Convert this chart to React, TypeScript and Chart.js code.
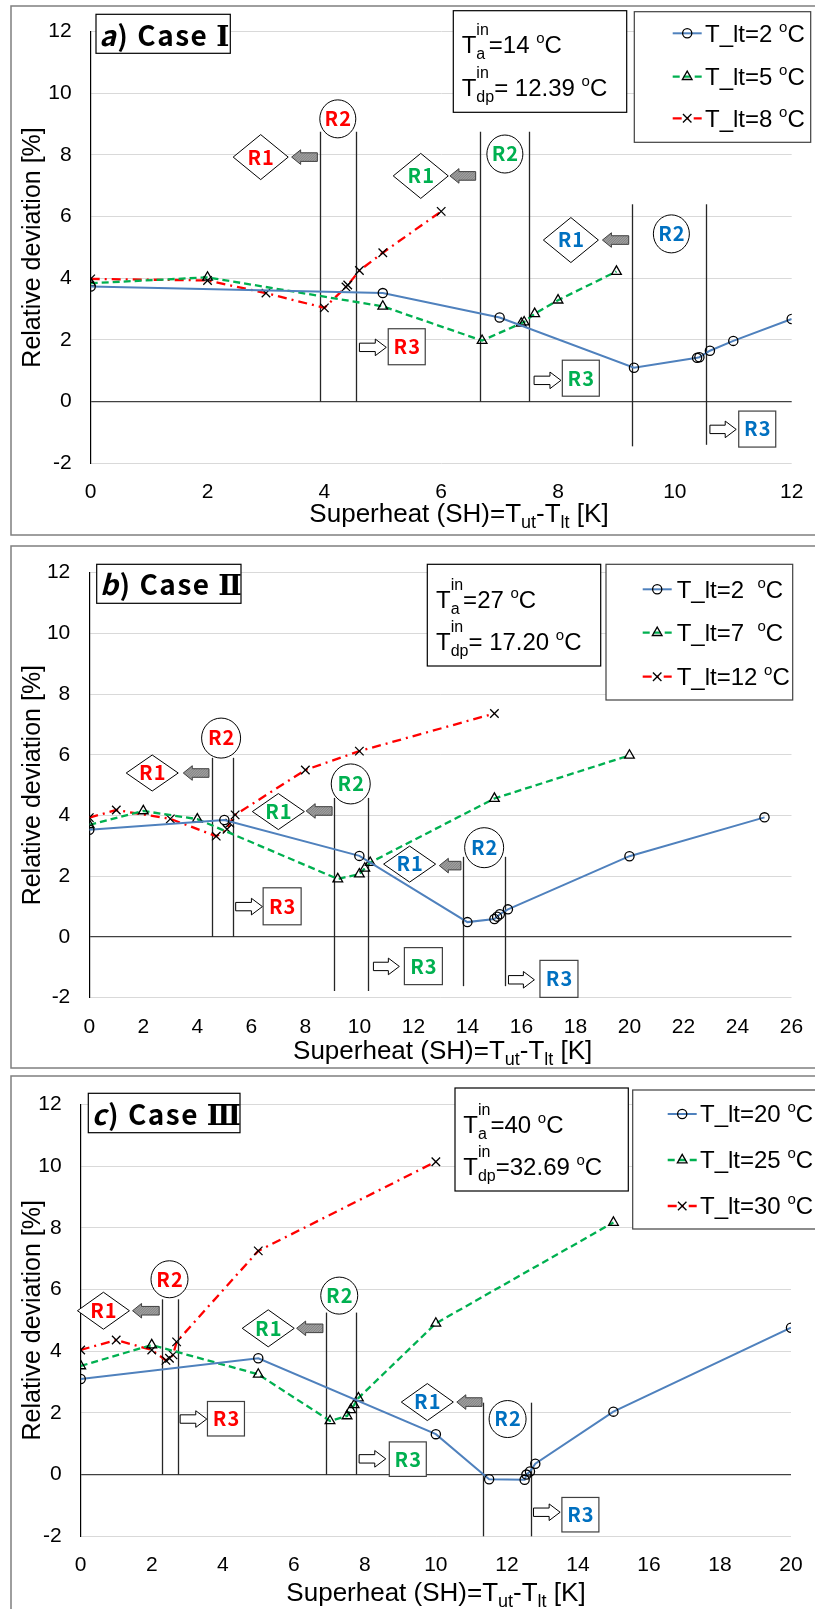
import React, { useEffect, useRef } from 'react';
import { Chart, registerables } from 'chart.js';

Chart.register(...registerables);

const LATIN = '"Liberation Sans", Arial, sans-serif';
const KR = '"Noto Sans CJK KR", "Noto Sans", sans-serif';
const SERIF = '"DejaVu Serif", "Liberation Serif", serif';
const W = 815;

const RED = '#FF0000';
const GREEN = '#00B050';
const BLUE = '#0070C0';
const LINE_BLUE = '#4F81BD';

// ---------------- Panel a) Case I ----------------
const A_BLUE_X = [0, 5, 7, 9.3, 10.38, 10.42, 10.6, 11, 12];
const A_BLUE_Y = [3.73, 3.52, 2.73, 1.1, 1.42, 1.44, 1.65, 1.97, 2.68];
const A_GREEN_X = [0, 2, 5, 6.7, 7.37, 7.42, 7.6, 8, 9];
const A_GREEN_Y = [3.84, 4.03, 3.09, 1.98, 2.54, 2.58, 2.85, 3.29, 4.22];
const A_RED_X = [0, 2, 3, 4, 4.37, 4.4, 4.6, 5, 6];
const A_RED_Y = [3.98, 3.93, 3.52, 3.04, 3.72, 3.78, 4.25, 4.83, 6.17];
const A_LABELS = ['T_lt=2 ', 'T_lt=5 ', 'T_lt=8 '];
const A_INFO = ['=14 ', '= 12.39 '];
const A_VLINES = [[3.92, 8.75, 0], [4.55, 8.75, 0], [6.67, 8.75, 0], [7.51, 8.75, 0], [9.26, 6.4, -1.45], [10.53, 6.4, -1.4]];
const A_R1 = [[2.91, 7.93, RED], [5.65, 7.32, GREEN], [8.22, 5.24, BLUE]];
const A_R1_ARROWS = [[3.44, 3.88, 7.93], [6.15, 6.59, 7.32], [8.76, 9.21, 5.24]];
const A_R2 = [[4.23, 9.17, RED], [7.09, 8.03, GREEN], [9.94, 5.44, BLUE]];
const A_R3 = [[5.41, 1.78, RED], [8.39, 0.76, GREEN], [11.41, -0.89, BLUE]];
const A_R3_ARROWS = [[4.6, 5.06, 1.76], [7.59, 8.05, 0.69], [10.6, 11.05, -0.9]];

// ---------------- Panel b) Case II ----------------
const B_BLUE_X = [0, 5, 10, 14, 15, 15.1, 15.2, 15.5, 20, 25];
const B_BLUE_Y = [3.53, 3.85, 2.67, 0.49, 0.59, 0.67, 0.75, 0.91, 2.66, 3.94];
const B_GREEN_X = [0, 2, 4, 9.2, 10, 10.2, 10.4, 15, 20];
const B_GREEN_Y = [3.69, 4.15, 3.88, 1.91, 2.07, 2.26, 2.45, 4.56, 5.98];
const B_RED_X = [0, 1, 3, 4.7, 5.1, 5.2, 5.4, 8, 10, 15];
const B_RED_Y = [3.93, 4.18, 3.89, 3.32, 3.55, 3.75, 4.02, 5.5, 6.12, 7.36];
const B_LABELS = ['T_lt=2  ', 'T_lt=7  ', 'T_lt=12 '];
const B_INFO = ['=27 ', '= 17.20 '];
const B_VLINES = [[4.53, 5.9, 0], [5.31, 5.9, 0], [9.06, 4.58, -1.78], [10.33, 4.58, -1.78], [13.85, 2.64, -1.62], [15.41, 2.64, -1.62]];
const B_R1 = [[2.33, 5.4, RED], [7.0, 4.13, GREEN], [11.86, 2.4, BLUE]];
const B_R1_ARROWS = [[3.48, 4.43, 5.4], [8.03, 8.99, 4.15], [12.96, 13.76, 2.35]];
const B_R2 = [[4.88, 6.55, RED], [9.68, 5.04, GREEN], [14.62, 2.94, BLUE]];
const B_R3 = [[7.14, 1.01, RED], [12.37, -0.96, GREEN], [17.39, -1.38, BLUE]];
const B_R3_ARROWS = [[5.42, 6.41, 1.0], [10.52, 11.48, -0.97], [15.52, 16.48, -1.41]];

// ---------------- Panel c) Case III ----------------
const C_BLUE_X = [0, 5, 10, 11.5, 12.5, 12.55, 12.65, 12.8, 15, 20];
const C_BLUE_Y = [3.1, 3.77, 1.31, -0.15, -0.17, 0.0, 0.1, 0.35, 2.04, 4.76];
const C_GREEN_X = [0, 2, 5, 7.02, 7.5, 7.6, 7.7, 7.82, 10, 15];
const C_GREEN_Y = [3.52, 4.2, 3.25, 1.74, 1.9, 2.1, 2.26, 2.48, 4.9, 8.17];
const C_RED_X = [0, 1, 2, 2.4, 2.5, 2.6, 2.7, 5, 10];
const C_RED_Y = [4.04, 4.36, 4.04, 3.7, 3.77, 3.88, 4.3, 7.25, 10.14];
const C_LABELS = ['T_lt=20 ', 'T_lt=25 ', 'T_lt=30 '];
const C_INFO = ['=40 ', '=32.69 '];
const C_VLINES = [[2.3, 5.68, 0], [2.75, 5.68, 0], [6.9, 5.25, 0], [7.75, 5.25, 0], [11.34, 2.33, -2], [12.68, 2.33, -2]];
const C_R1 = [[0.64, 5.31, RED], [5.28, 4.74, GREEN], [9.76, 2.35, BLUE]];
const C_R1_ARROWS = [[1.46, 2.21, 5.31], [6.08, 6.82, 4.74], [10.59, 11.3, 2.35]];
const C_R2 = [[2.5, 6.33, RED], [7.28, 5.8, GREEN], [12.02, 1.8, BLUE]];
const C_R3 = [[4.09, 1.81, RED], [9.21, 0.5, GREEN], [14.07, -1.3, BLUE]];
const C_R3_ARROWS = [[2.8, 3.55, 1.8], [7.84, 8.59, 0.51], [12.75, 13.5, -1.22]];

const Y_MIN = -2;
const Y_MAX = 12;
const STEP = 2;

type Series = { xs: number[]; ys: number[]; label: string; color: string; dash: number[]; marker: string; radius: number; width: number };

function mkSeries(bx: number[], by: number[], gx: number[], gy: number[], rx: number[], ry: number[], labels: string[]): Series[] {
  return [
    { xs: bx, ys: by, label: labels[0], color: LINE_BLUE, dash: [], marker: 'circle', radius: 4.6, width: 2 },
    { xs: gx, ys: gy, label: labels[1], color: GREEN, dash: [7, 4], marker: 'triangle', radius: 5.6, width: 2.3 },
    { xs: rx, ys: ry, label: labels[2], color: RED, dash: [9, 5, 2, 5], marker: 'crossRot', radius: 6, width: 2.3 },
  ];
}

const PANELS: any[] = [
  {
    top: 0, height: 541,
    area: { l: 90.7, t: 25.7, r: 791.7, b: 463.3 }, xMax: 12,
    series: mkSeries(A_BLUE_X, A_BLUE_Y, A_GREEN_X, A_GREEN_Y, A_RED_X, A_RED_Y, A_LABELS),
    vlines: A_VLINES, r1: A_R1, r1a: A_R1_ARROWS, r2: A_R2, r3: A_R3, r3a: A_R3_ARROWS,
    sizes: { dw: 55, dh: 45, crx: 18, cry: 19, bw: 37, bh: 36 },
    border: { l: 11, t: 6, r: 840, b: 535 },
    title: { l: 96, t: 14.3, r: 230.3, b: 53.3, tx: 99.3, base: 45.7, letter: 'a', roman: 'Ⅰ' },
    info: { l: 453.3, t: 10.7, r: 626.7, b: 112.3, tx: 8.4, o1: 42.6, o2: 85.3, v: A_INFO },
    legend: { l: 634.3, t: 11.7, r: 810.7, b: 142.3, offs: [21.6, 65, 106.6], s1: 38.4, s2: 67.4, tx: 70.7 },
    xTitle: { cx: 459, base: 522 },
  },
  {
    top: 541, height: 530,
    area: { l: 89.3, t: 24, r: 791.5, b: 456.7 }, xMax: 26,
    series: mkSeries(B_BLUE_X, B_BLUE_Y, B_GREEN_X, B_GREEN_Y, B_RED_X, B_RED_Y, B_LABELS),
    vlines: B_VLINES, r1: B_R1, r1a: B_R1_ARROWS, r2: B_R2, r3: B_R3, r3a: B_R3_ARROWS,
    sizes: { dw: 52, dh: 36, crx: 19.5, cry: 20, bw: 38, bh: 37 },
    border: { l: 11, t: 5, r: 840, b: 527 },
    title: { l: 96.7, t: 23.3, r: 241, b: 62.3, tx: 100, base: 54, letter: 'b', roman: 'Ⅱ' },
    info: { l: 427.3, t: 23.3, r: 600.7, b: 125, tx: 8.7, o1: 44, o2: 85.7, v: B_INFO },
    legend: { l: 606, t: 23.3, r: 792.7, b: 159, offs: [25, 68.4, 112.4], s1: 36.7, s2: 65.7, tx: 70.7 },
    xTitle: { cx: 442.7, base: 518 },
  },
  {
    top: 1071, height: 538,
    area: { l: 80.7, t: 33.3, r: 791, b: 465.3 }, xMax: 20,
    series: mkSeries(C_BLUE_X, C_BLUE_Y, C_GREEN_X, C_GREEN_Y, C_RED_X, C_RED_Y, C_LABELS),
    vlines: C_VLINES, r1: C_R1, r1a: C_R1_ARROWS, r2: C_R2, r3: C_R3, r3a: C_R3_ARROWS,
    sizes: { dw: 52, dh: 37, crx: 18.5, cry: 18.5, bw: 37, bh: 34.5 },
    border: { l: 11, t: 5, r: 840, b: 580 },
    title: { l: 88.3, t: 22.3, r: 240, b: 61.7, tx: 91.7, base: 54, letter: 'c', roman: 'Ⅲ' },
    info: { l: 455, t: 17, r: 628.3, b: 120, tx: 8.3, o1: 45.3, o2: 87, v: C_INFO },
    legend: { l: 632.7, t: 19, r: 840, b: 158, offs: [24, 70, 116], s1: 35, s2: 64, tx: 67.3 },
    xTitle: { cx: 436, base: 530 },
  },
];

type Part = { t: string; size: number; dy?: number; family?: string; weight?: string; style?: string; ls?: number };

function setFont(ctx: CanvasRenderingContext2D, p: Part) {
  ctx.font = `${p.style || 'normal'} ${p.weight || 'normal'} ${p.size}px ${p.family || LATIN}`;
  (ctx as any).letterSpacing = `${p.ls || 0}px`;
}
function partsWidth(ctx: CanvasRenderingContext2D, parts: Part[]) {
  let w = 0;
  for (const p of parts) { setFont(ctx, p); w += ctx.measureText(p.t).width; }
  (ctx as any).letterSpacing = '0px';
  return w;
}
function drawParts(ctx: CanvasRenderingContext2D, x: number, base: number, parts: Part[], color = '#000') {
  ctx.fillStyle = color;
  ctx.textAlign = 'left';
  ctx.textBaseline = 'alphabetic';
  for (const p of parts) {
    setFont(ctx, p);
    ctx.fillText(p.t, x, base + (p.dy || 0));
    x += ctx.measureText(p.t).width;
  }
  (ctx as any).letterSpacing = '0px';
  return x;
}

function drawMarker(ctx: CanvasRenderingContext2D, style: string, x: number, y: number, r: number) {
  ctx.save();
  ctx.setLineDash([]);
  ctx.strokeStyle = '#000';
  ctx.lineWidth = 1.3;
  ctx.beginPath();
  if (style === 'circle') {
    ctx.arc(x, y, r, 0, Math.PI * 2);
  } else if (style === 'triangle') {
    for (let i = 0; i < 3; i++) {
      const a = (i * 2 * Math.PI) / 3;
      const px = x + Math.sin(a) * r;
      const py = y - Math.cos(a) * r;
      if (i === 0) ctx.moveTo(px, py); else ctx.lineTo(px, py);
    }
    ctx.closePath();
  } else {
    const o = r * Math.SQRT1_2;
    ctx.moveTo(x - o, y - o); ctx.lineTo(x + o, y + o);
    ctx.moveTo(x + o, y - o); ctx.lineTo(x - o, y + o);
  }
  ctx.stroke();
  ctx.restore();
}

function rLabel(ctx: CanvasRenderingContext2D, text: string, cx: number, cy: number, color: string) {
  ctx.save();
  ctx.font = `bold 20px ${KR}`;
  (ctx as any).letterSpacing = '1px';
  const w = ctx.measureText(text).width - 1;
  ctx.fillStyle = color;
  ctx.textAlign = 'left';
  ctx.textBaseline = 'alphabetic';
  ctx.fillText(text, cx - w / 2, cy + 7.4);
  ctx.restore();
}

function leftArrowPath(ctx: CanvasRenderingContext2D, a: number, b: number, cy: number) {
  const hl = 9, hh = 7.3, sh = 4.3;
  ctx.beginPath();
  ctx.moveTo(a, cy); ctx.lineTo(a + hl, cy - hh); ctx.lineTo(a + hl, cy - sh);
  ctx.lineTo(b, cy - sh); ctx.lineTo(b, cy + sh); ctx.lineTo(a + hl, cy + sh);
  ctx.lineTo(a + hl, cy + hh); ctx.closePath();
}

function makePlugin(p: any) {
  return {
    id: 'deco',
    beforeDraw(chart: any) {
      const ctx: CanvasRenderingContext2D = chart.ctx;
      const b = p.border;
      ctx.save();
      ctx.strokeStyle = '#7F7F7F';
      ctx.lineWidth = 1.5;
      ctx.strokeRect(b.l, b.t, b.r - b.l, b.b - b.t);
      ctx.restore();
    },
    beforeDatasetsDraw(chart: any) {
      const ctx: CanvasRenderingContext2D = chart.ctx;
      const X = (v: number) => chart.scales.x.getPixelForValue(v);
      const Y = (v: number) => chart.scales.y.getPixelForValue(v);
      ctx.save();
      ctx.strokeStyle = '#262626';
      ctx.lineWidth = 1.3;
      for (const [x, y1, y2] of p.vlines) {
        const px = Math.round(X(x)) + 0.5;
        ctx.beginPath();
        ctx.moveTo(px, Y(y1));
        ctx.lineTo(px, Y(y2));
        ctx.stroke();
      }
      ctx.restore();
    },
    afterDatasetsDraw(chart: any) {
      const ctx: CanvasRenderingContext2D = chart.ctx;
      const X = (v: number) => chart.scales.x.getPixelForValue(v);
      const Y = (v: number) => chart.scales.y.getPixelForValue(v);
      const s = p.sizes;
      ctx.save();
      ctx.setLineDash([]);
      // R2 circles
      for (const [x, y, c] of p.r2) {
        const cx = X(x), cy = Y(y);
        ctx.beginPath();
        ctx.ellipse(cx, cy, s.crx, s.cry, 0, 0, Math.PI * 2);
        ctx.fillStyle = '#fff'; ctx.fill();
        ctx.strokeStyle = '#000'; ctx.lineWidth = 1; ctx.stroke();
        rLabel(ctx, 'R2', cx, cy, c);
      }
      // R1 diamonds
      for (const [x, y, c] of p.r1) {
        const cx = X(x), cy = Y(y);
        ctx.beginPath();
        ctx.moveTo(cx - s.dw / 2, cy); ctx.lineTo(cx, cy - s.dh / 2);
        ctx.lineTo(cx + s.dw / 2, cy); ctx.lineTo(cx, cy + s.dh / 2);
        ctx.closePath();
        ctx.fillStyle = '#fff'; ctx.fill();
        ctx.strokeStyle = '#000'; ctx.lineWidth = 1; ctx.stroke();
        rLabel(ctx, 'R1', cx, cy, c);
      }
      // grey hatched left arrows
      for (const [x1, x2, y] of p.r1a) {
        const a = X(x1), b = X(x2), cy = Y(y);
        leftArrowPath(ctx, a, b, cy);
        ctx.fillStyle = '#A0A0A0'; ctx.fill();
        ctx.save();
        leftArrowPath(ctx, a, b, cy);
        ctx.clip();
        ctx.strokeStyle = '#7A7A7A'; ctx.lineWidth = 0.8;
        for (let k = a - 20; k < b + 20; k += 2.5) {
          ctx.beginPath(); ctx.moveTo(k, cy + 10); ctx.lineTo(k + 20, cy - 10); ctx.stroke();
        }
        ctx.restore();
        leftArrowPath(ctx, a, b, cy);
        ctx.strokeStyle = '#404040'; ctx.lineWidth = 1; ctx.stroke();
      }
      // R3 boxes
      for (const [x, y, c] of p.r3) {
        const cx = X(x), cy = Y(y);
        ctx.fillStyle = '#fff';
        ctx.fillRect(cx - s.bw / 2, cy - s.bh / 2, s.bw, s.bh);
        ctx.strokeStyle = '#404040'; ctx.lineWidth = 1.2;
        ctx.strokeRect(cx - s.bw / 2, cy - s.bh / 2, s.bw, s.bh);
        rLabel(ctx, 'R3', cx, cy, c);
      }
      // hollow right arrows
      for (const [x1, x2, y] of p.r3a) {
        const a = X(x1), b = X(x2), cy = Y(y);
        const hl = 11, hh = 8.3, sh = 4.2;
        ctx.beginPath();
        ctx.moveTo(b, cy); ctx.lineTo(b - hl, cy - hh); ctx.lineTo(b - hl, cy - sh);
        ctx.lineTo(a, cy - sh); ctx.lineTo(a, cy + sh); ctx.lineTo(b - hl, cy + sh);
        ctx.lineTo(b - hl, cy + hh); ctx.closePath();
        ctx.fillStyle = '#fff'; ctx.fill();
        ctx.strokeStyle = '#000'; ctx.lineWidth = 1; ctx.stroke();
      }

      // title box
      const t = p.title;
      ctx.fillStyle = '#fff';
      ctx.fillRect(t.l, t.t, t.r - t.l, t.b - t.t);
      ctx.strokeStyle = '#000'; ctx.lineWidth = 1.2;
      ctx.strokeRect(t.l, t.t, t.r - t.l, t.b - t.t);
      drawParts(ctx, t.tx, t.base, [
        { t: t.letter, size: 28, family: KR, weight: 'bold', style: 'italic', ls: 1.5 },
        { t: ') Case ', size: 28, family: KR, weight: 'bold', ls: 1.5 },
        { t: t.roman, size: 28, family: SERIF, weight: 'bold', ls: 0 },
      ]);

      // info box
      const inf = p.info;
      ctx.fillStyle = '#fff';
      ctx.fillRect(inf.l, inf.t, inf.r - inf.l, inf.b - inf.t);
      ctx.strokeStyle = '#000'; ctx.lineWidth = 1.2;
      ctx.strokeRect(inf.l, inf.t, inf.r - inf.l, inf.b - inf.t);
      const subs = ['a', 'dp'];
      [inf.o1, inf.o2].forEach((off: number, i: number) => {
        const base = inf.t + off;
        let x = drawParts(ctx, inf.l + inf.tx, base, [{ t: 'T', size: 24 }]);
        const wSup = partsWidth(ctx, [{ t: 'in', size: 16 }]);
        const wSub = partsWidth(ctx, [{ t: subs[i], size: 16 }]);
        drawParts(ctx, x, base - 18, [{ t: 'in', size: 16 }]);
        drawParts(ctx, x, base + 5.5, [{ t: subs[i], size: 16 }]);
        x += Math.max(wSup, wSub);
        drawParts(ctx, x, base, [
          { t: inf.v[i], size: 24 },
          { t: 'o', size: 15, dy: -10 },
          { t: 'C', size: 24 },
        ]);
      });

      // legend box
      const lg = p.legend;
      ctx.fillStyle = '#fff';
      ctx.fillRect(lg.l, lg.t, lg.r - lg.l, lg.b - lg.t);
      ctx.strokeStyle = '#404040'; ctx.lineWidth = 1.2;
      ctx.strokeRect(lg.l, lg.t, lg.r - lg.l, lg.b - lg.t);
      p.series.forEach((sr: Series, i: number) => {
        const cy = lg.t + lg.offs[i];
        const x1 = lg.l + lg.s1, x2 = lg.l + lg.s2;
        ctx.save();
        ctx.strokeStyle = sr.color;
        ctx.lineWidth = sr.width;
        ctx.setLineDash(sr.dash);
        ctx.beginPath(); ctx.moveTo(x1, cy); ctx.lineTo(x2, cy); ctx.stroke();
        ctx.restore();
        drawMarker(ctx, sr.marker, (x1 + x2) / 2, cy, sr.radius);
        drawParts(ctx, lg.l + lg.tx, cy + 8.3, [
          { t: sr.label, size: 24 },
          { t: 'o', size: 15, dy: -10 },
          { t: 'C', size: 24 },
        ]);
      });
      ctx.restore();
    },
    afterDraw(chart: any) {
      const ctx: CanvasRenderingContext2D = chart.ctx;
      const parts: Part[] = [
        { t: 'Superheat (SH)=T', size: 26 },
        { t: 'ut', size: 18, dy: 6 },
        { t: '-T', size: 26 },
        { t: 'lt', size: 18, dy: 6 },
        { t: ' [K]', size: 26 },
      ];
      ctx.save();
      const w = partsWidth(ctx, parts);
      drawParts(ctx, p.xTitle.cx - w / 2, p.xTitle.base, parts);
      ctx.restore();
    },
  };
}

function makeChart(canvas: HTMLCanvasElement, p: any) {
  const datasets = p.series.map((s: Series) => ({
    label: s.label,
    data: s.xs.map((x, i) => ({ x, y: s.ys[i] })),
    showLine: true,
    borderColor: s.color,
    borderWidth: s.width,
    borderDash: s.dash,
    pointStyle: s.marker,
    pointRadius: s.radius,
    pointBorderColor: '#000',
    pointBackgroundColor: 'rgba(255,255,255,0)',
    pointBorderWidth: 1.3,
    fill: false,
    tension: 0,
  }));
  return new Chart(canvas, {
    type: 'scatter',
    data: { datasets },
    options: {
      animation: false,
      responsive: false,
      maintainAspectRatio: false,
      devicePixelRatio: 1,
      layout: { padding: { left: 0, top: p.area.t, right: W - p.area.r, bottom: 0 } },
      plugins: { legend: { display: false }, tooltip: { enabled: false } },
      scales: {
        x: {
          type: 'linear', min: 0, max: p.xMax,
          afterFit: (sc: any) => { sc.height = p.height - p.area.b; },
          ticks: { stepSize: STEP, font: { size: 21, family: LATIN }, color: '#000', padding: 8.5, maxRotation: 0, autoSkip: false },
          grid: { display: false },
          border: { display: false },
        },
        y: {
          type: 'linear', min: Y_MIN, max: Y_MAX,
          afterFit: (sc: any) => { sc.width = p.area.l; },
          ticks: { stepSize: STEP, font: { size: 21, family: LATIN }, color: '#000', padding: 19 },
          grid: {
            drawTicks: false,
            color: (c: any) => (c.tick && c.tick.value === 0 ? '#404040' : '#D9D9D9'),
            lineWidth: (c: any) => (c.tick && c.tick.value === 0 ? 1.3 : 1),
          },
          border: { display: true, color: '#000', width: 1.2 },
          title: {
            display: true,
            text: 'Relative deviation [%]',
            font: { size: 25, family: LATIN },
            color: '#000',
            padding: { top: 18.5, bottom: 0 },
          },
        },
      },
    } as any,
    plugins: [makePlugin(p) as any],
  });
}

function Panel({ p }: { p: any }) {
  const ref = useRef<HTMLCanvasElement | null>(null);
  useEffect(() => {
    if (!ref.current) return;
    const ch = makeChart(ref.current, p);
    return () => ch.destroy();
  }, [p]);
  return (
    <canvas
      ref={ref}
      width={W}
      height={p.height}
      style={{ position: 'absolute', left: 0, top: p.top, width: W, height: p.height, display: 'block' }}
    />
  );
}

export default function App() {
  return (
    <div style={{ position: 'absolute', left: 0, top: 0, width: W, height: 1609, background: '#fff', overflow: 'hidden' }}>
      {PANELS.map((p, i) => (
        <Panel key={i} p={p} />
      ))}
    </div>
  );
}
